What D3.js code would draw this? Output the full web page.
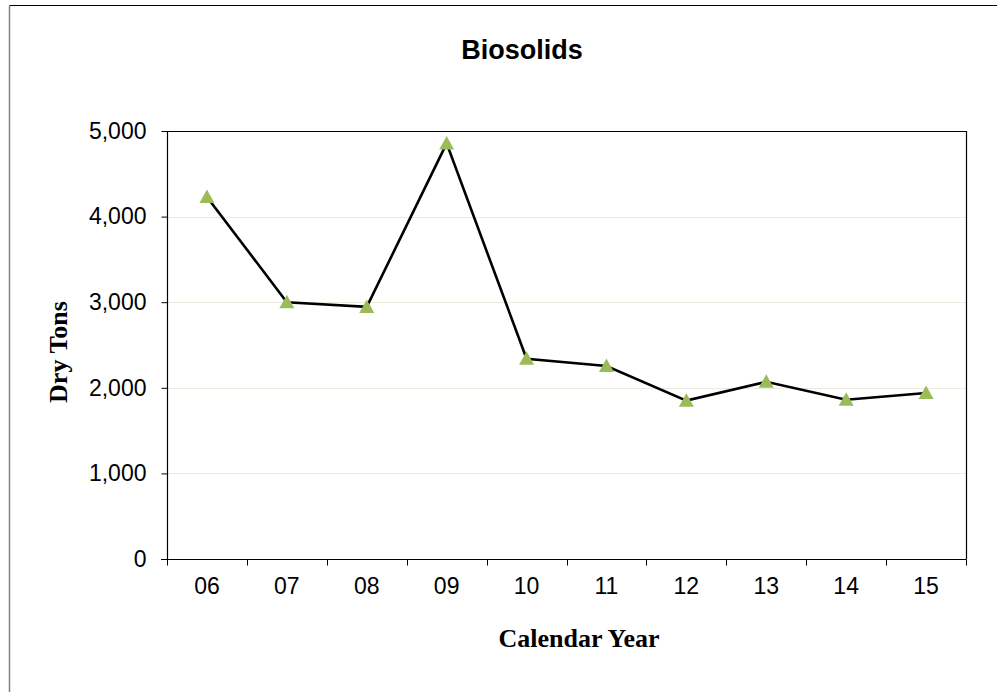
<!DOCTYPE html>
<html><head><meta charset="utf-8">
<script src="https://cdn.jsdelivr.net/npm/d3@7"></script>
<style>body{margin:0;background:#fff}svg{display:block}</style>
</head><body>
<script>
const years = ["06","07","08","09","10","11","12","13","14","15"];
const tons = [4230, 3000, 2945, 4855, 2340, 2255, 1850, 2070, 1860, 1940];
const yTicks = [0, 1000, 2000, 3000, 4000, 5000];

const W = 997, H = 692;
const m = {left: 167, right: 966, top: 131, bottom: 559};
const svg = d3.select("body").append("svg").attr("width", W).attr("height", H);

// outer frame
svg.append("line").attr("x1", 9.5).attr("x2", W).attr("y1", 5.5).attr("y2", 5.5).attr("stroke", "#000").attr("stroke-width", 1);
svg.append("line").attr("x1", 9.5).attr("x2", 9.5).attr("y1", 5.5).attr("y2", H).attr("stroke", "#808080").attr("stroke-width", 1.5);

const x = d3.scaleBand().domain(years).range([m.left, m.right]);
const y = d3.scaleLinear().domain([0, 5000]).range([m.bottom, m.top]);

// gridlines
svg.append("g").selectAll("line").data(yTicks.filter(d => d > 0 && d < 5000)).join("line")
  .attr("x1", m.left).attr("x2", m.right)
  .attr("y1", d => Math.round(y(d)) + 0.5).attr("y2", d => Math.round(y(d)) + 0.5)
  .attr("stroke", "#ebebdf").attr("stroke-width", 1);

// plot frame top/right
svg.append("line").attr("x1", m.left).attr("x2", m.right + 0.5).attr("y1", m.top + 0.5).attr("y2", m.top + 0.5).attr("stroke", "#000").attr("stroke-width", 1.2);
svg.append("line").attr("x1", m.right + 0.5).attr("x2", m.right + 0.5).attr("y1", m.top).attr("y2", m.bottom).attr("stroke", "#000").attr("stroke-width", 1.2);

const sans = "Arial, 'Liberation Sans', sans-serif";
const serif = "'Times New Roman', 'Liberation Serif', serif";

// y axis
const yAxis = svg.append("g").attr("transform", `translate(${m.left + 0.5},0)`)
  .call(d3.axisLeft(y).tickValues(yTicks).tickSize(6).tickPadding(15).tickFormat(d3.format(",")));
yAxis.select(".domain").attr("stroke", "#000").attr("stroke-width", 1.2).attr("d", `M0,${m.top}V${m.bottom}`);
yAxis.selectAll("text").attr("font-family", sans).attr("font-size", 23).attr("fill", "#000");

// x axis
const xAxis = svg.append("g").attr("transform", `translate(0,${m.bottom + 0.5})`)
  .call(d3.axisBottom(x).tickSize(0).tickPadding(18));
xAxis.select(".domain").attr("stroke", "#000").attr("stroke-width", 1.2).attr("d", `M${m.left - 6},0H${m.right + 0.5}`);
xAxis.selectAll("text").attr("font-family", sans).attr("font-size", 23).attr("fill", "#000");
// x boundary ticks
const bounds = years.map(d => x(d)).concat([m.right]);
xAxis.append("g").selectAll("line").data(bounds).join("line")
  .attr("x1", d => Math.round(d) + 0.5).attr("x2", d => Math.round(d) + 0.5)
  .attr("y1", 0).attr("y2", 6).attr("stroke", "#000").attr("stroke-width", 1);

// line
const cx = d => x(d) + x.bandwidth() / 2;
svg.append("path").datum(years.map((d, i) => [cx(d), y(tons[i])]))
  .attr("d", d3.line()).attr("fill", "none").attr("stroke", "#000").attr("stroke-width", 2.6);

// markers
svg.append("g").selectAll("path").data(years).join("path")
  .attr("transform", (d, i) => `translate(${cx(d)},${y(tons[i])})`)
  .attr("d", "M0,-7.5L7.5,6L-7.5,6Z").attr("fill", "#9bbb59");

// titles
svg.append("text").attr("x", 522).attr("y", 59).attr("text-anchor", "middle")
  .attr("font-family", sans).attr("font-weight", "bold").attr("font-size", 27).text("Biosolids");
svg.append("text").attr("x", 579).attr("y", 647).attr("text-anchor", "middle")
  .attr("font-family", serif).attr("font-weight", "bold").attr("font-size", 26).text("Calendar Year");
svg.append("text").attr("transform", "translate(67,352) rotate(-90)").attr("text-anchor", "middle")
  .attr("font-family", serif).attr("font-weight", "bold").attr("font-size", 26).text("Dry Tons");
</script>
</body></html>
